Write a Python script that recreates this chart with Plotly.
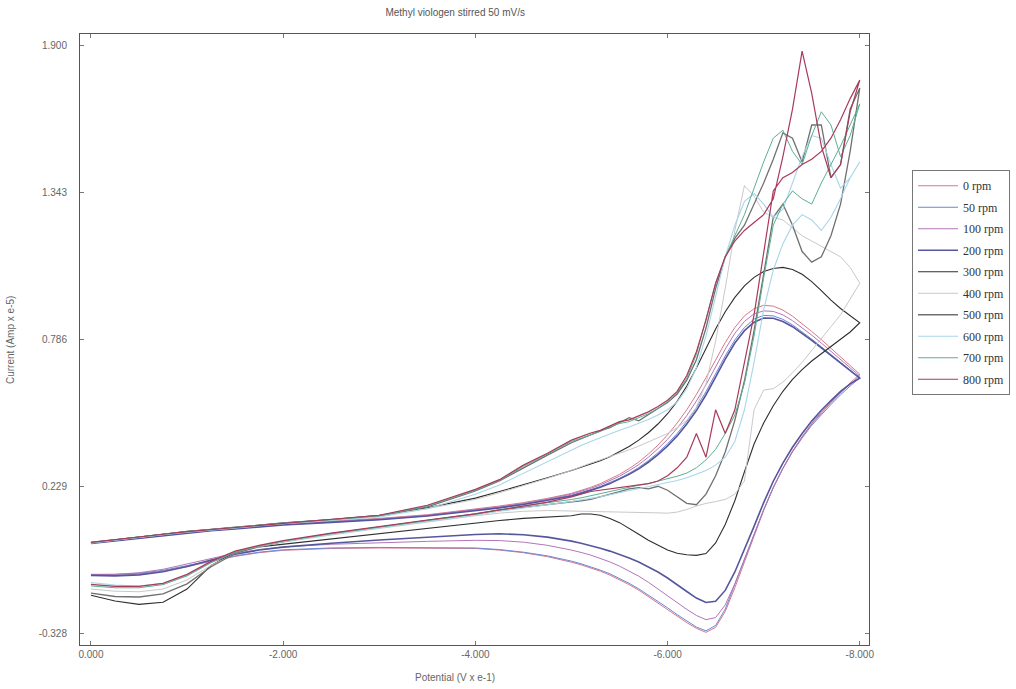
import plotly.graph_objects as go

# Potential grid (V x e-1); the same grid serves the forward and the return sweep
POTENTIAL = [0.0, -0.25, -0.5, -0.75, -1.0, -1.25, -1.5, -1.75, -2.0, -2.5, -3.0, -3.5,
             -4.0, -4.25, -4.5, -4.75, -5.0,
             -5.1, -5.2, -5.3, -5.4, -5.5, -5.6, -5.7, -5.8, -5.9, -6.0,
             -6.1, -6.2, -6.3, -6.4, -6.5, -6.6, -6.7, -6.8, -6.9, -7.0,
             -7.1, -7.2, -7.3, -7.4, -7.5, -7.6, -7.7, -7.8, -7.9, -8.0]

RPM_LABELS = ["0 rpm", "50 rpm", "100 rpm", "200 rpm", "300 rpm",
              "400 rpm", "500 rpm", "600 rpm", "700 rpm", "800 rpm"]

# Current (Amp x e-5), forward sweep 0 -> -8
FWD_0 = [0.018, 0.028, 0.038, 0.048, 0.058, 0.066, 0.073, 0.080, 0.088, 0.098, 0.108, 0.122, 0.143, 0.155, 0.168, 0.184, 0.203,
         0.214, 0.226, 0.24, 0.256, 0.275, 0.297, 0.322, 0.352, 0.386, 0.425, 0.47, 0.52, 0.578, 0.642, 0.71, 0.775, 0.832, 0.876, 0.903, 0.916,
         0.913, 0.898, 0.875, 0.847, 0.817, 0.786, 0.754, 0.721, 0.688, 0.655]
FWD_50 = [0.014, 0.024, 0.034, 0.044, 0.054, 0.062, 0.069, 0.076, 0.084, 0.094, 0.104, 0.118, 0.138, 0.15, 0.163, 0.178, 0.196,
          0.206, 0.217, 0.229, 0.243, 0.26, 0.279, 0.301, 0.327, 0.357, 0.391, 0.43, 0.476, 0.528, 0.589, 0.656, 0.724, 0.785, 0.832, 0.864, 0.878,
          0.876, 0.863, 0.842, 0.816, 0.788, 0.759, 0.729, 0.699, 0.669, 0.641]
FWD_100 = [0.016, 0.026, 0.036, 0.046, 0.056, 0.064, 0.071, 0.078, 0.086, 0.096, 0.106, 0.12, 0.14, 0.152, 0.165, 0.181, 0.2,
           0.21, 0.222, 0.235, 0.25, 0.268, 0.289, 0.312, 0.34, 0.372, 0.408, 0.45, 0.498, 0.553, 0.615, 0.683, 0.75, 0.81, 0.855, 0.884, 0.895,
           0.893, 0.88, 0.858, 0.832, 0.803, 0.773, 0.742, 0.711, 0.68, 0.648]
FWD_200 = [0.013, 0.023, 0.033, 0.043, 0.053, 0.061, 0.068, 0.075, 0.083, 0.093, 0.103, 0.117, 0.136, 0.148, 0.161, 0.176, 0.193,
           0.203, 0.214, 0.226, 0.24, 0.256, 0.275, 0.296, 0.321, 0.35, 0.383, 0.421, 0.466, 0.517, 0.577, 0.644, 0.712, 0.773, 0.82, 0.852, 0.868,
           0.867, 0.855, 0.835, 0.81, 0.783, 0.755, 0.726, 0.697, 0.668, 0.64]
FWD_300 = [0.016, 0.027, 0.038, 0.049, 0.059, 0.067, 0.075, 0.083, 0.091, 0.104, 0.12, 0.148, 0.185, 0.21, 0.235, 0.262, 0.29,
           0.302, 0.314, 0.327, 0.342, 0.36, 0.381, 0.405, 0.433, 0.466, 0.505, 0.552, 0.61, 0.678, 0.752, 0.826, 0.892, 0.946, 0.99, 1.022, 1.044,
           1.056, 1.06, 1.052, 1.034, 1.006, 0.972, 0.936, 0.904, 0.876, 0.85]
FWD_400 = [0.015, 0.026, 0.037, 0.048, 0.058, 0.066, 0.074, 0.082, 0.09, 0.103, 0.118, 0.145, 0.18, 0.205, 0.232, 0.26, 0.29,
           0.305, 0.318, 0.33, 0.342, 0.355, 0.368, 0.382, 0.397, 0.413, 0.43, 0.452, 0.48, 0.53, 0.62, 0.78, 0.98, 1.2, 1.37, 1.33, 1.27,
           1.25, 1.24, 1.21, 1.18, 1.16, 1.14, 1.12, 1.1, 1.06, 1.0]
FWD_500 = [0.016, 0.027, 0.037, 0.047, 0.057, 0.065, 0.073, 0.081, 0.089, 0.102, 0.117, 0.152, 0.212, 0.25, 0.3, 0.348, 0.395,
           0.41, 0.428, 0.44, 0.452, 0.47, 0.49, 0.478, 0.5, 0.525, 0.548, 0.58, 0.632, 0.71, 0.83, 0.98, 1.1, 1.17, 1.22, 1.3, 1.38,
           1.47, 1.57, 1.55, 1.46, 1.6, 1.6, 1.4, 1.45, 1.66, 1.74]
FWD_600 = [0.015, 0.026, 0.036, 0.046, 0.056, 0.064, 0.072, 0.08, 0.088, 0.1, 0.114, 0.145, 0.2, 0.235, 0.28, 0.325, 0.37,
           0.385, 0.4, 0.415, 0.43, 0.442, 0.455, 0.468, 0.483, 0.5, 0.52, 0.55, 0.6, 0.68, 0.8, 0.95, 1.1, 1.22, 1.31, 1.34, 1.3,
           1.25, 1.28, 1.38, 1.48, 1.56, 1.55, 1.45, 1.36, 1.4, 1.46]
FWD_700 = [0.017, 0.028, 0.038, 0.048, 0.058, 0.066, 0.074, 0.082, 0.09, 0.103, 0.118, 0.155, 0.215, 0.252, 0.305, 0.352, 0.4,
           0.412, 0.425, 0.438, 0.455, 0.468, 0.475, 0.49, 0.505, 0.525, 0.55, 0.585, 0.64, 0.73, 0.86, 1.0, 1.1, 1.18, 1.26, 1.36, 1.46,
           1.55, 1.58, 1.5, 1.45, 1.56, 1.65, 1.6, 1.48, 1.56, 1.68]
FWD_800 = [0.017, 0.028, 0.038, 0.048, 0.058, 0.066, 0.074, 0.082, 0.09, 0.104, 0.12, 0.158, 0.218, 0.255, 0.31, 0.355, 0.405,
           0.418, 0.432, 0.442, 0.458, 0.475, 0.482, 0.498, 0.512, 0.532, 0.556, 0.59, 0.65, 0.74, 0.86, 1.0, 1.1, 1.16, 1.2, 1.23, 1.26,
           1.32, 1.48, 1.66, 1.88, 1.72, 1.52, 1.4, 1.45, 1.65, 1.77]

# Current (Amp x e-5), return sweep, listed on the same potential grid (0 -> -8)
REV_0 = [-0.108, -0.108, -0.103, -0.092, -0.075, -0.055, -0.036, -0.022, -0.013, -0.006, -0.004, -0.004, -0.006, -0.012, -0.022, -0.037, -0.058,
         -0.068, -0.079, -0.092, -0.107, -0.124, -0.143, -0.164, -0.187, -0.211, -0.236, -0.262, -0.287, -0.309, -0.324, -0.305, -0.245, -0.155, -0.058, 0.04, 0.138,
         0.224, 0.298, 0.363, 0.418, 0.468, 0.511, 0.549, 0.587, 0.622, 0.655]
REV_50 = [-0.104, -0.104, -0.1, -0.089, -0.072, -0.053, -0.034, -0.02, -0.011, -0.004, -0.002, -0.002, -0.004, -0.01, -0.02, -0.034, -0.054,
          -0.064, -0.075, -0.088, -0.102, -0.119, -0.138, -0.159, -0.182, -0.206, -0.231, -0.257, -0.282, -0.304, -0.318, -0.298, -0.236, -0.146, -0.05, 0.046, 0.142,
          0.226, 0.297, 0.36, 0.413, 0.461, 0.502, 0.54, 0.577, 0.61, 0.641]
REV_100 = [-0.105, -0.104, -0.098, -0.085, -0.066, -0.044, -0.024, -0.01, 0.0, 0.01, 0.016, 0.021, 0.025, 0.024, 0.018, 0.006, -0.012,
           -0.021, -0.031, -0.043, -0.057, -0.073, -0.091, -0.111, -0.134, -0.158, -0.184, -0.211, -0.237, -0.26, -0.276, -0.268, -0.22, -0.14, -0.05, 0.045, 0.14,
           0.225, 0.298, 0.362, 0.416, 0.466, 0.508, 0.547, 0.584, 0.617, 0.648]
REV_200 = [-0.108, -0.11, -0.106, -0.094, -0.074, -0.05, -0.028, -0.012, -0.001, 0.014, 0.026, 0.037, 0.047, 0.05, 0.046, 0.037, 0.022,
           0.014, 0.005, -0.005, -0.016, -0.028, -0.042, -0.057, -0.075, -0.095, -0.118, -0.143, -0.169, -0.194, -0.211, -0.206, -0.165, -0.095, -0.012, 0.078, 0.168,
           0.249, 0.318, 0.378, 0.43, 0.477, 0.518, 0.555, 0.59, 0.618, 0.64]
REV_300 = [-0.183, -0.205, -0.218, -0.21, -0.16, -0.07, -0.02, 0.0, 0.01, 0.03, 0.05, 0.07, 0.09, 0.1, 0.108, 0.113, 0.118,
           0.125, 0.125, 0.12, 0.108, 0.092, 0.07, 0.048, 0.025, 0.005, -0.012, -0.024, -0.03, -0.032, -0.025, 0.015, 0.085, 0.175, 0.285, 0.39, 0.47,
           0.535, 0.59, 0.635, 0.672, 0.705, 0.735, 0.762, 0.788, 0.815, 0.85]
REV_400 = [-0.16, -0.168, -0.17, -0.16, -0.125, -0.07, -0.025, 0.0, 0.018, 0.045, 0.07, 0.095, 0.118, 0.128, 0.135, 0.138, 0.138,
           0.137, 0.136, 0.135, 0.134, 0.133, 0.132, 0.131, 0.13, 0.129, 0.128, 0.132, 0.142, 0.155, 0.165, 0.172, 0.18, 0.2, 0.25, 0.52, 0.595,
           0.6, 0.625, 0.66, 0.7, 0.745, 0.79, 0.835, 0.88, 0.94, 1.0]
REV_500 = [-0.175, -0.188, -0.19, -0.178, -0.14, -0.075, -0.025, 0.002, 0.02, 0.05, 0.075, 0.1, 0.125, 0.14, 0.15, 0.16, 0.17,
           0.175, 0.18, 0.19, 0.2, 0.21, 0.22, 0.225, 0.22, 0.23, 0.215, 0.19, 0.165, 0.16, 0.2, 0.27, 0.36, 0.48, 0.63, 0.82, 1.03,
           1.25, 1.3, 1.22, 1.12, 1.08, 1.1, 1.18, 1.3, 1.5, 1.74]
REV_600 = [-0.135, -0.145, -0.148, -0.138, -0.108, -0.058, -0.018, 0.004, 0.02, 0.048, 0.072, 0.096, 0.12, 0.135, 0.148, 0.16, 0.172,
           0.178, 0.184, 0.19, 0.198, 0.205, 0.212, 0.22, 0.228, 0.236, 0.244, 0.252, 0.262, 0.275, 0.29, 0.31, 0.34, 0.4, 0.52, 0.7, 0.9,
           1.05, 1.15, 1.22, 1.26, 1.24, 1.2, 1.25, 1.32, 1.4, 1.46]
REV_700 = [-0.148, -0.155, -0.155, -0.143, -0.11, -0.06, -0.02, 0.004, 0.022, 0.05, 0.076, 0.1, 0.124, 0.14, 0.155, 0.168, 0.18,
           0.186, 0.192, 0.2, 0.21, 0.218, 0.226, 0.234, 0.24, 0.25, 0.258, 0.268, 0.28, 0.3, 0.33, 0.37, 0.43, 0.5, 0.62, 0.8, 1.02,
           1.22, 1.3, 1.35, 1.32, 1.3, 1.38, 1.45, 1.52, 1.6, 1.68]
REV_800 = [-0.142, -0.15, -0.15, -0.138, -0.104, -0.055, -0.016, 0.006, 0.024, 0.052, 0.078, 0.102, 0.125, 0.14, 0.155, 0.17, 0.19,
           0.2, 0.21, 0.215, 0.22, 0.225, 0.23, 0.235, 0.24, 0.25, 0.27, 0.3, 0.34, 0.43, 0.34, 0.52, 0.43, 0.52, 0.7, 0.88, 1.12,
           1.35, 1.4, 1.42, 1.45, 1.47, 1.5, 1.55, 1.62, 1.7, 1.77]

FORWARD = [FWD_0, FWD_50, FWD_100, FWD_200, FWD_300, FWD_400, FWD_500, FWD_600, FWD_700, FWD_800]
RETURN = [REV_0, REV_50, REV_100, REV_200, REV_300, REV_400, REV_500, REV_600, REV_700, REV_800]

X_TICKS = [0, -2, -4, -6, -8]
X_TICK_TEXT = ["0.000", "-2.000", "-4.000", "-6.000", "-8.000"]
Y_TICKS = [-0.328, 0.229, 0.786, 1.343, 1.900]
Y_TICK_TEXT = ["-0.328", "0.229", "0.786", "1.343", "1.900"]

COLORS = ["#d8788a", "#6d88d2", "#b276b8", "#56569e", "#2e2e2e",
          "#c9c9c9", "#707070", "#a8d6ea", "#5bb092", "#a83a5a"]
WIDTHS = [1, 1, 1, 1.6, 1.1, 1, 1.3, 1.1, 1, 1.2]

for f, r in zip(FORWARD, RETURN):
    assert len(f) == len(POTENTIAL) and len(r) == len(POTENTIAL)

fig = go.Figure()
for name, f, r, c, w in zip(RPM_LABELS, FORWARD, RETURN, COLORS, WIDTHS):
    # one closed voltammogram: forward sweep out to -8, then the return sweep back to 0
    xs = POTENTIAL + POTENTIAL[::-1]
    ys = f + r[::-1]
    fig.add_trace(go.Scatter(x=xs, y=ys, mode="lines", name=name, legendgroup=name,
                             line=dict(color=c, width=w)))

axis_common = dict(showgrid=False, zeroline=False, showline=True, linecolor="#555555",
                   linewidth=1, mirror="ticks", ticks="inside", ticklen=4,
                   tickcolor="#777777",
                   tickfont=dict(family="Liberation Sans, Arial, sans-serif", size=10, color="#666666"))

SANS = dict(family="Liberation Sans, Arial, sans-serif", size=10, color="#666666")

fig.update_layout(
    width=1016, height=689,
    margin=dict(l=80, r=147, t=34, b=44, autoexpand=False),
    paper_bgcolor="white", plot_bgcolor="white",
    title=dict(text="Methyl viologen stirred 50 mV/s", x=0.448, xanchor="center",
               y=1 - 12 / 689, yanchor="middle", yref="container",
               font=dict(family="Liberation Sans, Arial, sans-serif", size=10, color="#555555")),
    xaxis=dict(range=[0.114, -8.096], tickvals=X_TICKS, ticktext=X_TICK_TEXT, **axis_common),
    yaxis=dict(range=[-0.372, 1.945], tickvals=Y_TICKS, ticktext=Y_TICK_TEXT,
               ticklabelstandoff=10, **axis_common),
    legend=dict(x=1.0545, y=0.777, xanchor="left", yanchor="top",
                bordercolor="#777777", borderwidth=1, bgcolor="white",
                font=dict(family="Liberation Serif, Times New Roman, serif", size=12, color="#333333"),
                traceorder="grouped", tracegroupgap=2.5, itemwidth=40),
    showlegend=True,
)

# axis titles placed as annotations in paper coordinates
plot_w = 1016 - 80 - 147
plot_h = 689 - 34 - 44
fig.add_annotation(text="Potential (V x e-1)", x=(455 - 80) / plot_w, y=-(677 - 645) / plot_h,
                   xref="paper", yref="paper", showarrow=False, yanchor="middle", font=SANS)
fig.add_annotation(text="Current (Amp x e-5)", x=-(80 - 10) / plot_w, y=(645 - 340) / plot_h,
                   xref="paper", yref="paper", showarrow=False, textangle=-90, xanchor="center",
                   font=SANS)

fig.write_html("out.html")
